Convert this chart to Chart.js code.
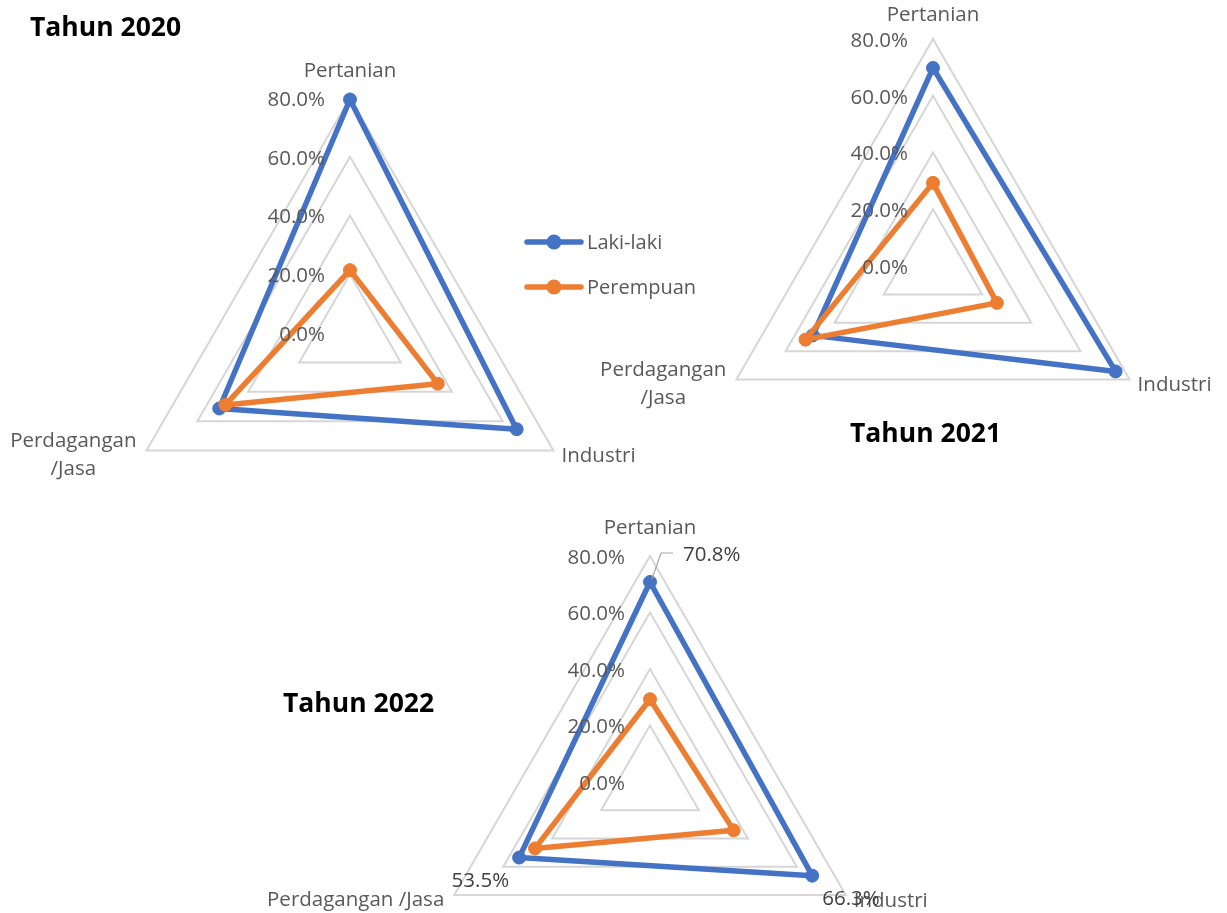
<!DOCTYPE html>
<html>
<head>
<meta charset="utf-8">
<script src="https://cdn.jsdelivr.net/npm/chart.js@4.4.1/dist/chart.umd.min.js"></script>
<style>
  html, body { margin: 0; padding: 0; background: #fff; overflow: hidden; }
  #wrap { position: relative; width: 1227px; height: 913px; overflow: hidden; }
  #wrap canvas { position: absolute; left: 0; top: 0; }
</style>
</head>
<body>
<div id="wrap">
  <canvas id="chart2020" width="1227" height="1150"></canvas>
  <canvas id="chart2021" width="1227" height="1150"></canvas>
  <canvas id="chart2022" width="1227" height="1150"></canvas>
</div>
<script>
// ===== Data =====

const sectorsStacked = ['Pertanian', 'Industri', ['Perdagangan', '/Jasa']];
const sectorsFlat = ['Pertanian', 'Industri', 'Perdagangan /Jasa'];
const seriesNames = ['Laki-laki', 'Perempuan'];

// share of workers (%) per sector
const laki2020 = [79.5, 65.5, 51.4];
const perempuan2020 = [21.4, 34.5, 49.0];
const laki2021 = [69.8, 74.3, 48.9];
const perempuan2021 = [29.3, 26.0, 51.9];
const laki2022 = [70.8, 66.3, 53.5];
const perempuan2022 = [29.3, 34.2, 47.0];

const tickValues = [0, 20, 40, 60, 80];

// ===== Styles =====

const blue = '#4472C4';
const orange = '#ED7D31';
const axisText = '#595959';
const FONT = '"Open Sans", "Noto Sans", sans-serif';
const CANVAS_W = 1227, CANVAS_H = 1150;

// ===== Decorations: ticks, category labels, titles, legend =====

const decorPlugin = {
  id: 'decor',
  afterDatasetsDraw(chart, args, opts) {
    const ctx = chart.ctx;
    const s = chart.scales.r;
    ctx.save();

    // tick labels sit to the left of the vertical axis
    ctx.font = '20.5px ' + FONT;
    ctx.fillStyle = axisText;
    ctx.textAlign = 'right';
    ctx.textBaseline = 'middle';
    s.ticks.forEach(t => {
      const y = s.yCenter - s.getDistanceFromCenterForValue(t.value);
      ctx.fillText(t.value.toFixed(1) + '%', s.xCenter - 25, y + 2);
    });

    // category labels around the outer ring
    chart.data.labels.forEach((lab, i) => {
      const p = s.getPointPosition(i, s.drawingArea);
      const lines = [].concat(lab);
      if (i === 0) {
        ctx.textAlign = 'center';
        ctx.fillText(lines[0], p.x, p.y - opts.topGap);
      } else if (i === 1) {
        ctx.textAlign = 'left';
        ctx.fillText(lines[0], p.x + 8, p.y + 6);
      } else if (lines.length > 1) {
        const w = Math.max(...lines.map(l => ctx.measureText(l).width));
        ctx.textAlign = 'center';
        lines.forEach((l, k) => ctx.fillText(l, p.x - 10 - w / 2, p.y - 9 + k * 28));
      } else {
        ctx.textAlign = 'right';
        ctx.fillText(lines[0], p.x - 10, p.y + 5);
      }
    });

    // value labels for the first series
    if (opts.valueLabels) {
      const pts = chart.getDatasetMeta(0).data;
      const vals = chart.data.datasets[0].data;
      ctx.fillStyle = '#404040';
      pts.forEach((pt, i) => {
        const txt = vals[i].toFixed(1) + '%';
        if (i === 0) {
          ctx.strokeStyle = '#a6a6a6';
          ctx.lineWidth = 1.2;
          ctx.beginPath();
          ctx.moveTo(pt.x + 2, pt.y - 3);
          ctx.lineTo(pt.x + 11, pt.y - 29);
          ctx.lineTo(pt.x + 23, pt.y - 29);
          ctx.stroke();
          ctx.textAlign = 'left';
          ctx.fillText(txt, pt.x + 33, pt.y - 27);
        } else if (i === 1) {
          ctx.textAlign = 'left';
          ctx.fillText(txt, pt.x + 10, pt.y + 24);
        } else {
          ctx.textAlign = 'right';
          ctx.fillText(txt, pt.x - 10, pt.y + 24);
        }
      });
    }

    // chart title
    ctx.font = 'bold 26.5px ' + FONT;
    ctx.fillStyle = '#000';
    ctx.textAlign = 'left';
    ctx.fillText(opts.title, opts.titleX, opts.titleY);

    // shared legend (drawn once)
    if (opts.legend) {
      const lg = opts.legend;
      chart.data.datasets.forEach((ds, k) => {
        const y = lg.y + k * lg.gap;
        ctx.strokeStyle = ds.borderColor;
        ctx.fillStyle = ds.borderColor;
        ctx.lineWidth = 5.5;
        ctx.lineCap = 'round';
        ctx.beginPath();
        ctx.moveTo(lg.x, y);
        ctx.lineTo(lg.x + 54, y);
        ctx.stroke();
        ctx.beginPath();
        ctx.arc(lg.x + 27, y, 7.5, 0, Math.PI * 2);
        ctx.fill();
        ctx.font = '20px ' + FONT;
        ctx.fillStyle = axisText;
        ctx.textAlign = 'left';
        ctx.fillText(ds.label, lg.x + 60, y + 1);
      });
    }
    ctx.restore();
  }
};

// ===== Build one radar =====

function makeDataset(label, data, color, order) {
  return {
    label: label,
    data: data,
    borderColor: color,
    backgroundColor: color,
    pointBackgroundColor: color,
    pointBorderColor: color,
    borderWidth: 5.5,
    borderJoinStyle: 'round',
    pointRadius: 6.5,
    pointBorderWidth: 1,
    fill: false,
    clip: false,
    order: order
  };
}

function drawRadar(id, labels, laki, perempuan, box, decor) {
  return new Chart(document.getElementById(id), {
    type: 'radar',
    data: {
      labels: labels,
      datasets: [
        makeDataset(seriesNames[0], laki, blue, 1),
        makeDataset(seriesNames[1], perempuan, orange, 0)
      ]
    },
    options: {
      responsive: false,
      animation: false,
      layout: {
        padding: {
          left: box.cx - box.r,
          right: CANVAS_W - box.cx - box.r,
          top: box.cy - box.r,
          bottom: CANVAS_H - box.cy - box.r
        }
      },
      scales: {
        r: {
          min: tickValues[0],
          max: tickValues[tickValues.length - 1],
          ticks: { stepSize: tickValues[1] - tickValues[0], display: false },
          grid: { color: '#d6d6d6', lineWidth: 2 },
          angleLines: { display: false },
          pointLabels: { display: false }
        }
      },
      plugins: {
        legend: { display: false },
        tooltip: { enabled: false },
        decor: decor
      }
    },
    plugins: [decorPlugin]
  });
}

// ===== Initialize =====

drawRadar('chart2020', sectorsStacked, laki2020, perempuan2020,
  { cx: 350, cy: 333, r: 235 },
  { title: 'Tahun 2020', titleX: 30, titleY: 28, topGap: 27, legend: { x: 527, y: 242, gap: 45 } });

drawRadar('chart2021', sectorsStacked, laki2021, perempuan2021,
  { cx: 933, cy: 266, r: 227 },
  { title: 'Tahun 2021', titleX: 850, titleY: 434, topGap: 24 });

drawRadar('chart2022', sectorsFlat, laki2022, perempuan2022,
  { cx: 650, cy: 782, r: 226 },
  { title: 'Tahun 2022', titleX: 283, titleY: 704, topGap: 28, valueLabels: true });
</script>
</body>
</html>
